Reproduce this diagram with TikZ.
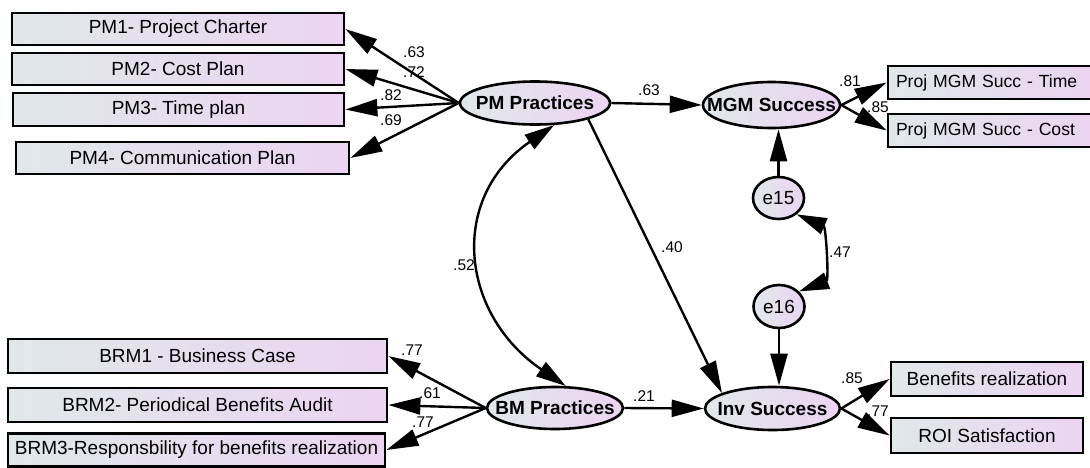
\documentclass[tikz,border=0pt]{standalone}
\usepackage{fontspec}
\setmainfont{Liberation Sans}
\usetikzlibrary{arrows.meta,shapes.geometric}
\definecolor{fillL}{RGB}{224,232,234}
\definecolor{fillR}{RGB}{236,212,242}
% keep ellipse sizes independent of their text width
\newcommand\ctext[1]{\makebox[0pt]{#1}}
\begin{document}
\begin{tikzpicture}[x=1pt,y=-1pt,
  obs/.style={draw=black, line width=2.8pt, left color=fillL, right color=fillR,
    minimum height=32pt, inner sep=0pt, font=\fontsize{19}{21}\selectfont},
  lat/.style={ellipse, draw=black, line width=2.6pt, left color=fillL, right color=fillR,
    inner sep=0pt, font=\bfseries\fontsize{19}{21}\selectfont},
  err/.style={ellipse, draw=black, line width=2.6pt, left color=fillL, right color=fillR,
    inner sep=0pt, font=\fontsize{19}{21}\selectfont},
  link/.style={line width=2.4pt, -{Triangle[length=32pt,width=17pt]}},
  cov/.style={line width=2.4pt, {Triangle[length=30pt,width=17pt]}-{Triangle[length=30pt,width=17pt]}},
  coef/.style={font=\fontsize{15.5}{16}\selectfont, inner sep=0pt},
  edgebox/.style={obs, minimum width=212pt, minimum height=33pt, text width=196pt,
    align=left, font=\fontsize{17.6}{20}\selectfont}
]
\useasboundingbox (0,0) rectangle (1090,467);

% observed indicators
\node[obs, minimum width=332pt] (pm1) at (178,29) {PM1- Project Charter};
\node[obs, minimum width=332pt] (pm2) at (178,69) {PM2- Cost Plan};
\node[obs, minimum width=331pt, minimum height=33pt] (pm3) at (178.5,109.5) {PM3- Time plan};
\node[obs, minimum width=333pt] (pm4) at (182.5,158) {PM4- Communication Plan};
\node[obs, minimum width=379pt, minimum height=34pt] (brm1) at (197.5,356) {BRM1 - Business Case};
\node[obs, minimum width=379pt, minimum height=34pt] (brm2) at (197.5,405) {BRM2- Periodical Benefits Audit};
\node[obs, minimum width=377pt, minimum height=33pt] (brm3) at (196.5,450) {BRM3-Responsbility for benefits realization};
\node[edgebox] (pt) at (994,82.5) {\mbox{Proj MGM Succ - Time}};
\node[edgebox] (pc) at (994,130.5) {\mbox{Proj MGM Succ - Cost}};
\node[obs, minimum width=192pt, minimum height=34pt] (ben) at (987,379) {Benefits realization};
\node[obs, minimum width=192pt, minimum height=35pt] (roi) at (987,435.5) {ROI Satisfaction};

% latent constructs and residuals
\node[lat, minimum width=150pt, minimum height=43pt] (pmp) at (535,103) {\ctext{PM Practices}};
\node[lat, minimum width=137pt, minimum height=46pt] (mgm) at (771.5,105) {\ctext{MGM Success}};
\node[lat, minimum width=135pt, minimum height=43pt] (inv) at (772.5,408.5) {\ctext{Inv Success}};
\node[lat, minimum width=136pt, minimum height=42pt] (bmp) at (555,408) {\ctext{BM Practices}};
\node[err, minimum width=51pt, minimum height=42pt] (e15) at (778.5,198) {\ctext{e15}};
\node[err, minimum width=51pt, minimum height=43pt] (e16) at (779,306.5) {\ctext{e16}};

% path coefficients
\node[coef] (c1) at (414,52) {.63};
\node[coef] (c2) at (414,72) {.72};
\node[coef] (c3) at (391,95) {.82};
\node[coef] (c4) at (391,120) {.69};
\node[coef] (c5) at (649,90) {.63};
\node[coef] (c6) at (850,81) {.81};
\node[coef] (c7) at (878,107) {.85};
\node[coef] (c8) at (672,247) {.40};
\node[coef] (c9) at (840,252) {.47};
\node[coef] (c10) at (852,378) {.85};
\node[coef] (c11) at (878,411) {.77};
\node[coef] (c12) at (644,396) {.21};
\node[coef] (c13) at (464,265) {.52};
\node[coef] (c14) at (412,350) {.77};
\node[coef] (c15) at (430,393) {.61};
\node[coef] (c16) at (423,422) {.77};

% loadings
\draw[link] (pmp.west) -- (pm1.east);
\draw[link] (pmp.west) -- (pm2.east);
\draw[link] (pmp.west) -- (pm3.east);
\draw[link] (pmp.west) -- (pm4.east);
\draw[link] (bmp.west) -- (brm1.east);
\draw[link] (bmp.west) -- (brm2.east);
\draw[link] (bmp.west) -- (brm3.east);
\draw[link] (mgm.east) -- (pt.west);
\draw[link] (mgm.east) -- (pc.west);
\draw[link] (inv.east) -- (ben.west);
\draw[link] (inv.east) -- (roi.west);

% structural paths
\draw[link] (pmp.east) -- (mgm.west);
\draw[link] (bmp.east) -- (inv.west);
\draw[link] (pmp.-17) -- (inv.163);
\draw[link] (e15.north) -- (e15.north |- mgm.south);
\draw[link] (e16.south) -- (e16.south |- inv.north);

% covariances
\draw[cov] (pmp.-49) .. controls (448,198) and (460,314) .. (bmp.64);
\draw[cov] (e15.-42) .. controls (826,227) and (829,280) .. (e16.37);
\end{tikzpicture}
\end{document}
